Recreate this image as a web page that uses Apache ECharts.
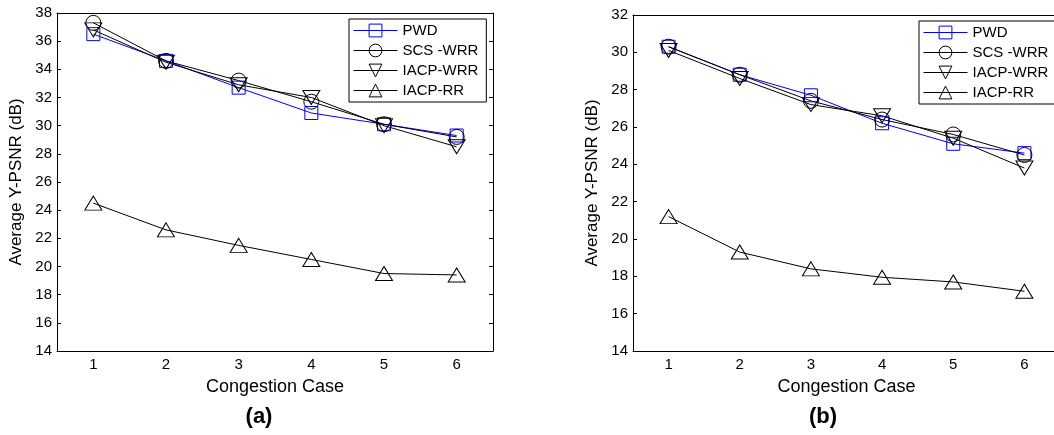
<!DOCTYPE html>
<html>
<head>
<meta charset="utf-8">
<script src="https://cdn.jsdelivr.net/npm/echarts@6/dist/echarts.min.js"></script>
<style>
html,body{margin:0;padding:0;background:#fff;overflow:hidden;}
#wrap{width:1054px;height:435px;overflow:hidden;position:relative;}
#c{width:1062px;height:435px;}
</style>
</head>
<body>
<div id="wrap"><div id="c"></div></div>
<script>
const cases = ['1', '2', '3', '4', '5', '6'];
const seriesNames = ['PWD', 'SCS -WRR', 'IACP-WRR', 'IACP-RR'];
// panel (a)
const aPWD = [36.5, 34.6, 32.7, 30.9, 30.1, 29.3];
const aSCS = [37.3, 34.6, 33.2, 31.7, 30.1, 29.2];
const aWRR = [36.8, 34.5, 32.9, 32.0, 30.0, 28.5];
const aRR  = [24.5, 22.6, 21.5, 20.5, 19.5, 19.4];
// panel (b)
const bPWD = [30.3, 28.8, 27.7, 26.2, 25.1, 24.6];
const bSCS = [30.3, 28.8, 27.4, 26.4, 25.6, 24.5];
const bWRR = [30.1, 28.6, 27.2, 26.6, 25.4, 23.8];
const bRR  = [21.2, 19.3, 18.4, 17.95, 17.7, 17.2];
const yTicksA = {min: 14, max: 38, interval: 2};
const yTicksB = {min: 14, max: 32, interval: 2};
const xName = 'Congestion Case';
const yName = 'Average Y-PSNR (dB)';
const panelTitles = ['(a)', '(b)'];

const FONT = 'Liberation Sans, Arial, sans-serif';
const chart = echarts.init(document.getElementById('c'), null, {renderer: 'canvas'});

const grids = [
  {left: 57, top: 13, width: 436, height: 338},
  {left: 633, top: 15, width: 427, height: 336}
];

function xAxes(gi) {
  return [
    {
      type: 'category', gridIndex: gi, data: cases, position: 'bottom',
      boundaryGap: true,
      name: xName, nameLocation: 'middle', nameGap: 27,
      nameTextStyle: {fontFamily: FONT, fontSize: 18, color: '#000'},
      axisLine: {lineStyle: {color: '#000', width: 1}},
      axisTick: {inside: true, alignWithLabel: true, length: 4, lineStyle: {color: '#000'}},
      axisLabel: {fontFamily: FONT, fontSize: 15, color: '#000', margin: 6},
      splitLine: {show: false}
    },
    {
      type: 'category', gridIndex: gi, data: cases, position: 'top',
      boundaryGap: true,
      axisLine: {lineStyle: {color: '#000', width: 1}},
      axisTick: {inside: true, alignWithLabel: true, length: 4, lineStyle: {color: '#000'}},
      axisLabel: {show: false},
      splitLine: {show: false}
    }
  ];
}
function yAxes(gi, t) {
  return [
    {
      type: 'value', gridIndex: gi, position: 'left',
      min: t.min, max: t.max, interval: t.interval,
      name: yName, nameLocation: 'middle', nameGap: 32,
      nameTextStyle: {fontFamily: FONT, fontSize: 17, color: '#000'},
      axisLine: {show: true, lineStyle: {color: '#000', width: 1}},
      axisTick: {show: true, inside: true, length: 4, lineStyle: {color: '#000'}},
      axisLabel: {fontFamily: FONT, fontSize: 15, color: '#000', margin: 5},
      splitLine: {show: false}
    },
    {
      type: 'value', gridIndex: gi, position: 'right',
      min: t.min, max: t.max, interval: t.interval,
      axisLine: {show: true, lineStyle: {color: '#000', width: 1}},
      axisTick: {show: true, inside: true, length: 4, lineStyle: {color: '#000'}},
      axisLabel: {show: false},
      splitLine: {show: false}
    }
  ];
}

const styles = [
  {symbol: 'rect', size: 13, rotate: 0, color: '#0000ff'},
  {symbol: 'circle', size: 15, rotate: 0, color: '#000'},
  {symbol: 'triangle', size: [17, 14], rotate: 180, color: '#000'},
  {symbol: 'triangle', size: [17, 14], rotate: 0, color: '#000'}
];

function mkSeries(gi, arrs) {
  return arrs.map((d, i) => ({
    type: 'line', name: seriesNames[i], data: d,
    xAxisIndex: gi * 2, yAxisIndex: gi * 2,
    symbol: styles[i].symbol, symbolSize: styles[i].size, symbolRotate: styles[i].rotate,
    showAllSymbol: true,
    lineStyle: {color: styles[i].color, width: 1},
    itemStyle: {color: 'rgba(0,0,0,0)', borderColor: styles[i].color, borderWidth: 1},
    emphasis: {disabled: true},
    animation: false
  }));
}

function mkLegend(left, top, padRight) {
  return {
    orient: 'vertical', left: left, top: top,
    data: seriesNames,
    itemWidth: 44, itemHeight: 16, itemGap: 5,
    padding: [4, padRight, 4, 4],
    borderColor: '#000', borderWidth: 1, backgroundColor: '#fff',
    lineStyle: {width: 1},
    itemStyle: {borderWidth: 1},
    textStyle: {fontFamily: FONT, fontSize: 15, color: '#000'},
    selectedMode: false
  };
}

const option = {
  backgroundColor: '#fff',
  animation: false,
  grid: grids,
  xAxis: [...xAxes(0), ...xAxes(1)],
  yAxis: [...yAxes(0, yTicksA), ...yAxes(1, yTicksB)],
  legend: [mkLegend(349, 19, 8), mkLegend(919, 21, 14)],
  title: [
    {text: panelTitles[0], left: 254, top: 401, textAlign: 'center',
     textStyle: {fontFamily: FONT, fontSize: 22, fontWeight: 'bold', color: '#000'}},
    {text: panelTitles[1], left: 818, top: 401, textAlign: 'center',
     textStyle: {fontFamily: FONT, fontSize: 22, fontWeight: 'bold', color: '#000'}}
  ],
  series: [...mkSeries(0, [aPWD, aSCS, aWRR, aRR]), ...mkSeries(1, [bPWD, bSCS, bWRR, bRR])]
};
chart.setOption(option);
</script>
</body>
</html>
